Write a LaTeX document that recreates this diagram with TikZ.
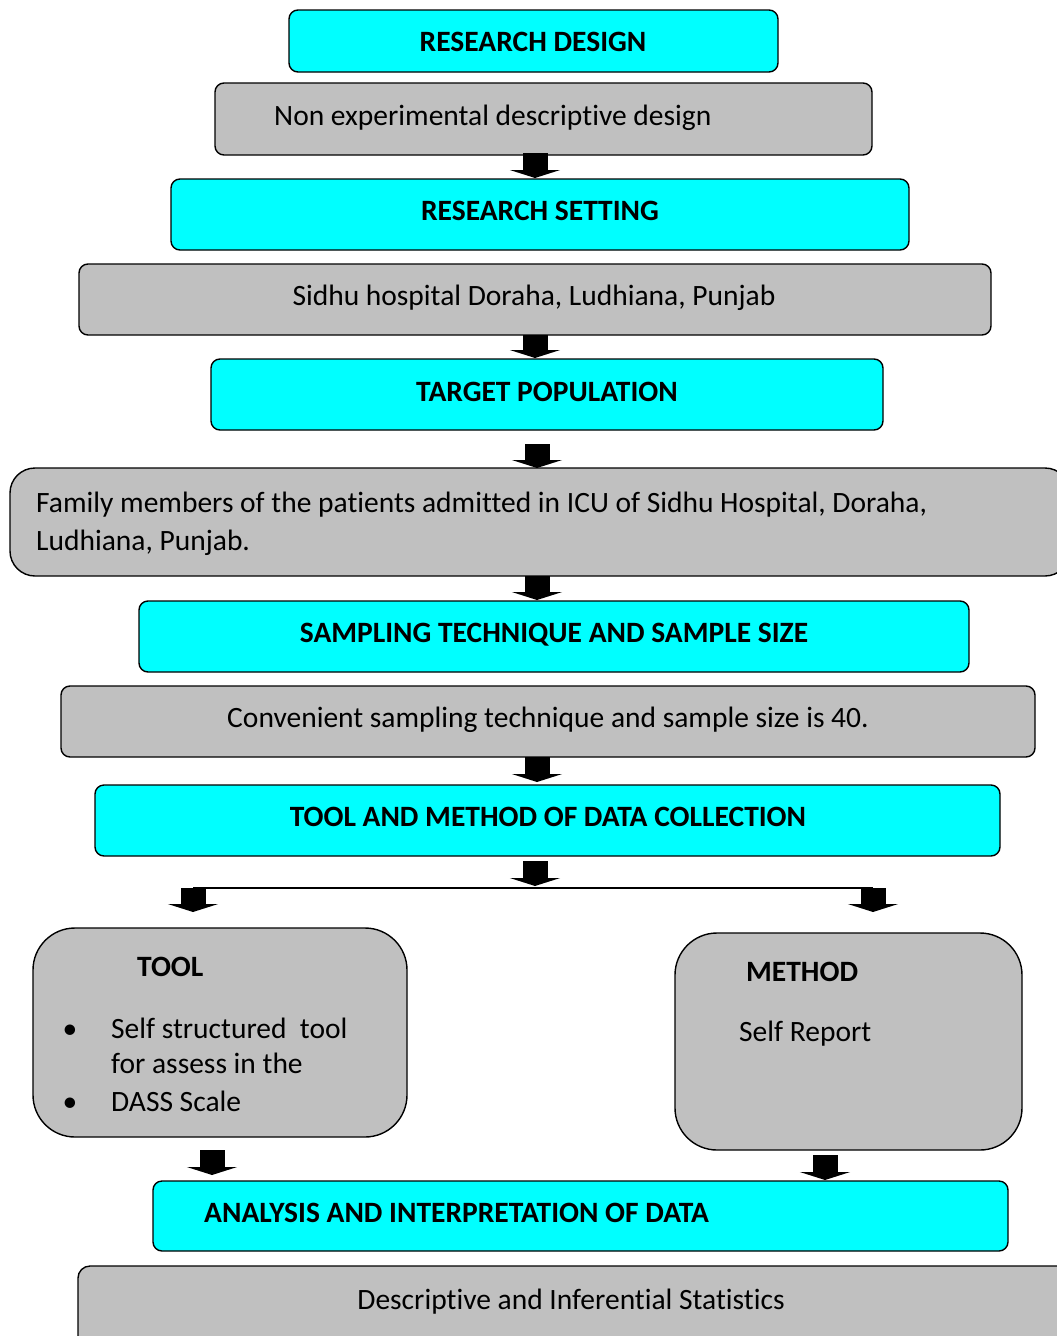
\documentclass[tikz,border=0pt]{standalone}
\usepackage{fontspec}
\setmainfont{Carlito}[Ligatures=NoCommon]
\usetikzlibrary{arrows.meta}
\definecolor{hdr}{HTML}{00FFFF}
\definecolor{gry}{HTML}{C0C0C0}
\tikzset{
  boxbase/.style={draw=black, line width=1.4pt, inner sep=0pt},
  cyanbox/.style={boxbase, fill=hdr, rounded corners=9pt},
  greybox/.style={boxbase, fill=gry, rounded corners=9pt},
  txt/.style={inner sep=0pt, font=\fontsize{29.5}{38}\selectfont},
  btxt/.style={txt, font=\fontsize{29.5}{38}\selectfont\bfseries},
  blk/.style={line width=25pt, -{Triangle[width=50pt,length=8pt]}, black},
}
\begin{document}
\begin{tikzpicture}[x=1pt,y=-1pt]
\useasboundingbox (0,0) rectangle (1057,1336);
\clip (0,0) rectangle (1057,1336);
% boxes
\node[cyanbox, minimum width=489pt, minimum height=62pt] (rd) at (533.5,41) {};
\node[greybox, minimum width=657pt, minimum height=72pt] (nd) at (543.5,119) {};
\node[cyanbox, minimum width=738pt, minimum height=71pt] (rs) at (540,214.5) {};
\node[greybox, minimum width=912pt, minimum height=71pt] (sh) at (535,299.5) {};
\node[cyanbox, minimum width=672pt, minimum height=71pt] (tp) at (547,394.5) {};
\node[greybox, rounded corners=25pt, minimum width=1060pt, minimum height=108pt] (fm) at (540,522) {};
\node[cyanbox, minimum width=830pt, minimum height=71pt] (st) at (554,636.5) {};
\node[greybox, minimum width=974pt, minimum height=71pt] (cs) at (548,721.5) {};
\node[cyanbox, minimum width=905pt, minimum height=71pt] (tm) at (547.5,820.5) {};
\node[greybox, rounded corners=42pt, minimum width=374pt, minimum height=209pt] (tl) at (220,1032.5) {};
\node[greybox, rounded corners=42pt, minimum width=347pt, minimum height=217pt] (me) at (848.5,1041.5) {};
\node[cyanbox, minimum width=855pt, minimum height=70pt] (an) at (580.5,1216) {};
\node[greybox, rounded corners=12pt, minimum width=1000pt, minimum height=100pt] (ds) at (578,1316) {};
% texts
\node[btxt, anchor=base] (t1) at (533,51) {RESEARCH DESIGN};
\node[txt, anchor=base west] (t2) at (274,125) {Non experimental descriptive design};
\node[btxt, anchor=base] (t3) at (540,220) {RESEARCH SETTING};
\node[txt, anchor=base] (t4) at (534,305) {Sidhu hospital Doraha, Ludhiana, Punjab};
\node[btxt, anchor=base] (t5) at (547,401) {TARGET POPULATION};
\node[txt, anchor=base west] (t6a) at (36,512) {Family members of the patients admitted in ICU of Sidhu Hospital, Doraha,};
\node[txt, anchor=base west] (t6b) at (36,550) {Ludhiana, Punjab.};
\node[btxt, anchor=base] (t7) at (554,642) {SAMPLING TECHNIQUE AND SAMPLE SIZE};
\node[txt, anchor=base] (t8) at (548,727) {Convenient sampling technique and sample size is 40.};
\node[btxt, anchor=base] (t9) at (548,826) {TOOL AND METHOD OF DATA COLLECTION};
\node[btxt, anchor=base west] (t10) at (137,976) {TOOL};
\node[txt, anchor=base] (b1) at (70,1038) {•};
\node[txt, anchor=base west] (t11a) at (111,1038) {Self structured\ \ tool};
\node[txt, anchor=base west] (t11b) at (111,1073) {for assess in the};
\node[txt, anchor=base] (b2) at (70,1111) {•};
\node[txt, anchor=base west] (t11c) at (111,1111) {DASS Scale};
\node[btxt, anchor=base west] (t12) at (746,981) {METHOD};
\node[txt, anchor=base west] (t13) at (739,1041) {Self Report};
\node[btxt, anchor=base west] (t14) at (204,1222) {ANALYSIS AND INTERPRETATION OF DATA};
\node[txt, anchor=base] (t15) at (571,1309) {Descriptive and Inferential Statistics};
% connector points
\coordinate (a1s) at (535,153); \coordinate (a1e) at (535,178);
\coordinate (a2s) at (535,335); \coordinate (a2e) at (535,358);
\coordinate (a3s) at (537,444); \coordinate (a3e) at (537,468);
\coordinate (a4s) at (537,576); \coordinate (a4e) at (537,600);
\coordinate (a5s) at (537,757); \coordinate (a5e) at (537,782);
\coordinate (a6s) at (535,861); \coordinate (a6e) at (535,886);
\coordinate (sl) at (193,888); \coordinate (sr) at (873,888);
\coordinate (a7e) at (193,912); \coordinate (a8e) at (873,912);
\coordinate (a9s) at (212,1150); \coordinate (a9e) at (212,1175);
\coordinate (a10s) at (825,1155); \coordinate (a10e) at (825,1180);
% connectors
\draw[line width=1.6pt] (sl) -- (sr);
\draw[blk] (a1s) -- (a1e);
\draw[blk] (a2s) -- (a2e);
\draw[blk] (a3s) -- (a3e);
\draw[blk] (a4s) -- (a4e);
\draw[blk] (a5s) -- (a5e);
\draw[blk] (a6s) -- (a6e);
\draw[blk] (sl) -- (a7e);
\draw[blk] (sr) -- (a8e);
\draw[blk] (a9s) -- (a9e);
\draw[blk] (a10s) -- (a10e);
\end{tikzpicture}
\end{document}
